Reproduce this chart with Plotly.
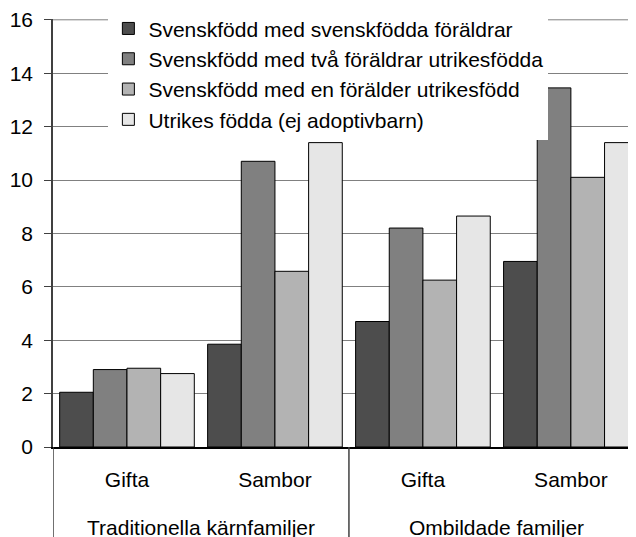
import plotly.graph_objects as go

outer_groups = ["Traditionella kärnfamiljer", "Ombildade familjer"]
outer = ["Traditionella kärnfamiljer", "Traditionella kärnfamiljer", "Ombildade familjer", "Ombildade familjer"]
inner = ["Gifta", "Sambor", "Gifta", "Sambor"]

series_names = [
    "Svenskfödd med svenskfödda föräldrar",
    "Svenskfödd med två föräldrar utrikesfödda",
    "Svenskfödd med en förälder utrikesfödd",
    "Utrikes födda (ej adoptivbarn)",
]
svenskfodda_foraldrar = [2.05, 3.85, 4.7, 6.95]
tva_utrikes = [2.9, 10.7, 8.2, 13.45]
en_utrikes = [2.95, 6.58, 6.25, 10.1]
utrikes_fodda = [2.75, 11.4, 8.65, 11.4]
series_values = [svenskfodda_foraldrar, tva_utrikes, en_utrikes, utrikes_fodda]
colors = ["#4d4d4d", "#808080", "#b3b3b3", "#e6e6e6"]

y_ticks = [0, 2, 4, 6, 8, 10, 12, 14, 16]

FONT = "Liberation Sans, Arial, sans-serif"
FS = 21

xpos = list(range(len(inner)))

fig = go.Figure()
for name, vals, col in zip(series_names, series_values, colors):
    fig.add_trace(go.Bar(
        x=xpos, y=vals, name=name,
        marker=dict(color=col, line=dict(color="#000000", width=1)),
    ))

PLOT_H = 428
fig.update_layout(
    width=636, height=537,
    margin=dict(l=45, r=8, t=11, b=98, autoexpand=False),
    paper_bgcolor="white", plot_bgcolor="white",
    barmode="group", bargap=0.09, bargroupgap=0,
    font=dict(family=FONT, size=FS, color="#000000"),
    showlegend=True,
    legend=dict(
        x=0.095, y=1.025, xanchor="left", yanchor="top",
        bgcolor="white", borderwidth=0,
        font=dict(family=FONT, size=FS, color="#000000"),
        traceorder="normal",
    ),
    xaxis=dict(
        range=[-0.5, 3.44], automargin=False,
        tickvals=xpos, ticktext=inner,
        showgrid=False, showline=True, linecolor="#000000", linewidth=1.5,
        ticks="", ticklabelstandoff=13, zeroline=False,
        tickfont=dict(family=FONT, size=FS, color="#000000"),
    ),
    yaxis=dict(
        range=[0, 16.03], tickvals=y_ticks, ticktext=[str(v) for v in y_ticks],
        automargin=False, ticklabeloverflow="allow",
        showgrid=True, gridcolor="#808080", gridwidth=1,
        showline=True, linecolor="#404040", linewidth=1.5,
        ticks="outside", ticklen=7, tickcolor="#404040", ticklabelstandoff=7,
        tickfont=dict(family=FONT, size=FS, color="#000000"),
        zeroline=False,
    ),
)

# top gridline (at the last tick value)
fig.add_shape(
    type="line", xref="paper", yref="y", x0=0, x1=1,
    y0=y_ticks[-1], y1=y_ticks[-1], layer="below",
    line=dict(color="#808080", width=1),
)

# group labels and dividers under the axis
bottom = -98 / PLOT_H
for g in outer_groups:
    idx = [i for i, o in enumerate(outer) if o == g]
    fig.add_annotation(
        text=g, xref="x", yref="paper", x=sum(idx) / len(idx), y=-80 / PLOT_H,
        xanchor="center", yanchor="middle", showarrow=False,
        font=dict(family=FONT, size=FS, color="#000000"),
    )
    fig.add_shape(
        type="line", xref="x", yref="paper", x0=min(idx) - 0.5, x1=min(idx) - 0.5,
        y0=0, y1=bottom, line=dict(color="#404040", width=1.5),
    )

fig.add_annotation(
    text="Antal separationer per 100 barn",
    xref="paper", yref="paper", x=-0.04, y=1.035, xanchor="left", yanchor="bottom",
    showarrow=False, font=dict(family=FONT, size=FS, color="#000000"),
)

fig.write_html("out.html")
